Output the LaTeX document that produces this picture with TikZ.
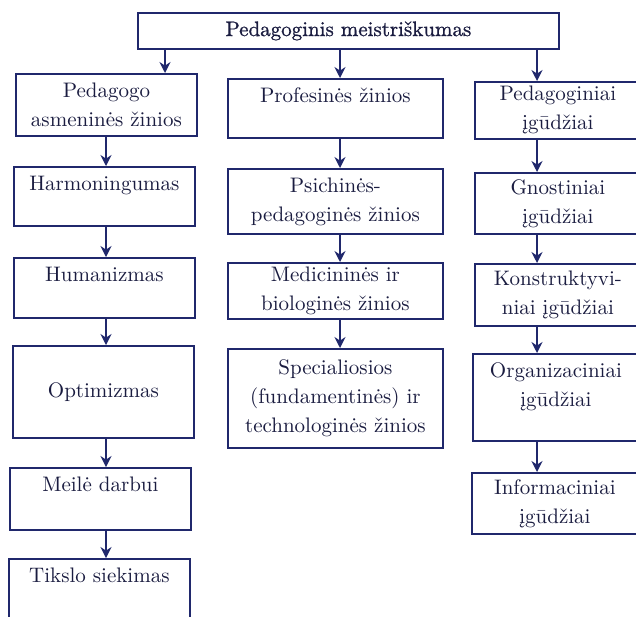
\documentclass[tikz,border=0pt]{standalone}
\usepackage{fontspec}
\newfontface\heavyface{lmroman10-regular.otf}[FakeBold=1]
\usetikzlibrary{positioning,arrows.meta}
\definecolor{lineBlue}{RGB}{32,40,108}
\definecolor{textBlue}{RGB}{26,28,64}
\tikzset{
  box/.style={rectangle, draw=lineBlue, line width=0.9pt, text=textBlue, align=center, anchor=north west, inner xsep=3pt, inner ysep=2pt},
  leftBox/.style={box, text width=84.5pt},
  midBox/.style={box, text width=101.5pt},
  rightBox/.style={box, text width=77pt},
  topText/.style={text height=10pt, text depth=#1},
  down/.style={-{Stealth[length=5.5pt,width=5.5pt]}, draw=lineBlue, line width=0.7pt}
}

\begin{document}
\begin{tikzpicture}[x=0.5pt, y=-0.5pt, font=\fontsize{10.5}{14.5}\selectfont]
  \useasboundingbox (0,0) rectangle (636,616);
  \node [box, text width=204.5pt, minimum height=18pt, font={\fontsize{10.5}{14.5}\heavyface}] (top) at (137,12) {Pedagoginis meistriškumas};

  % left column
  \node [leftBox, minimum height=31pt] (pedAsm) at (15,73) {Pedagogo\\asmeninės žinios};
  \node [leftBox, topText=15.5pt] (harm) at (13,166) {Harmoningumas};
  \node [leftBox, topText=16pt] (hum) at (13,257) {Humanizmas};
  \node [leftBox, minimum height=46pt] (opt) at (12,345) {Optimizmas};
  \node [leftBox, topText=17pt] (meile) at (9,467) {Meilė darbui};
  \node [leftBox, topText=27pt] (tikslo) at (8,558) {Tikslo siekimas};

  % middle column
  \node [midBox, topText=15.5pt] (prof) at (227,78) {Profesinės žinios};
  \node [midBox, minimum height=32.5pt] (psich) at (227,168) {Psichinės-\\pedagoginės žinios};
  \node [midBox, minimum height=28pt] (med) at (227,262) {Medicininės ir\\biologinės žinios};
  \node [midBox, minimum height=49.5pt] (spec) at (227,348) {Specialiosios\\(fundamentinės) ir\\technologinės žinios};

  % right column
  \node [rightBox, minimum height=28.5pt] (pedIg) at (474,81) {Pedagoginiai\\įgūdžiai};
  \node [rightBox, minimum height=30.5pt] (gnost) at (474,172) {Gnostiniai\\įgūdžiai};
  \node [rightBox, minimum height=31pt] (konstr) at (474,263) {Konstruktyvi-\\niai įgūdžiai};
  \node [rightBox, topText=29.5pt] (org) at (472,353) {Organizaciniai\\įgūdžiai};
  \node [rightBox, minimum height=30.5pt] (inform) at (471,472) {Informaciniai\\įgūdžiai};

  % arrow columns
  \coordinate (colTop) at (165,0);
  \coordinate (colL) at (106,0);
  \coordinate (colM) at (340,0);
  \coordinate (colR) at (537,0);

  \draw [down] (top.south -| colTop) -- (pedAsm.north -| colTop);
  \draw [down] (top.south -| colM) -- (prof.north -| colM);
  \draw [down] (top.south -| colR) -- (pedIg.north -| colR);

  \draw [down] (pedAsm.south -| colL) -- (harm.north -| colL);
  \draw [down] (harm.south -| colL) -- (hum.north -| colL);
  \draw [down] (hum.south -| colL) -- (opt.north -| colL);
  \draw [down] (opt.south -| colL) -- (meile.north -| colL);
  \draw [down] (meile.south -| colL) -- (tikslo.north -| colL);

  \draw [down] (prof.south -| colM) -- (psich.north -| colM);
  \draw [down] (psich.south -| colM) -- (med.north -| colM);
  \draw [down] (med.south -| colM) -- (spec.north -| colM);

  \draw [down] (pedIg.south -| colR) -- (gnost.north -| colR);
  \draw [down] (gnost.south -| colR) -- (konstr.north -| colR);
  \draw [down] (konstr.south -| colR) -- (org.north -| colR);
  \draw [down] (org.south -| colR) -- (inform.north -| colR);
\end{tikzpicture}
\end{document}
